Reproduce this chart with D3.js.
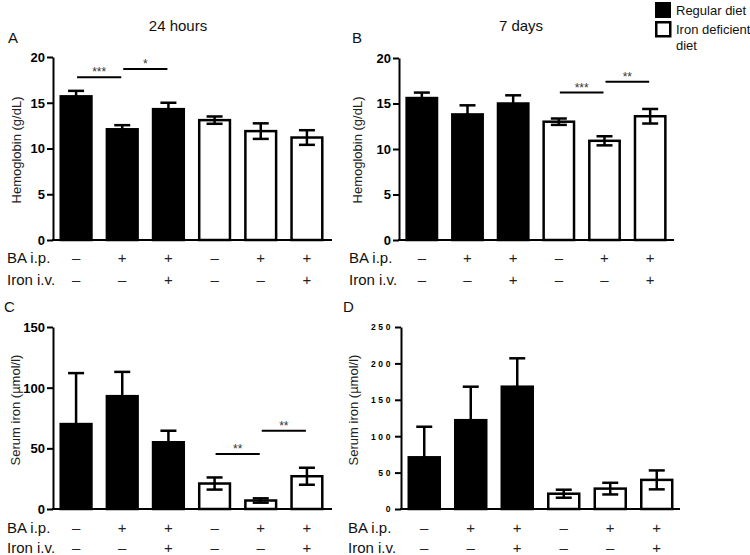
<!DOCTYPE html>
<html><head><meta charset="utf-8">
<script src="https://cdn.jsdelivr.net/npm/d3@7"></script>
<style>
html,body{margin:0;padding:0;background:#fff;}
svg{display:block;font-family:"Liberation Sans",Arial,sans-serif;}
</style></head>
<body>
<svg id="chart" width="750" height="555"></svg>
<script>
// ---- data ----
const groups = [0, 1, 2, 3, 4, 5];
const diet = ["regular", "regular", "regular", "deficient", "deficient", "deficient"];
const baIp = ["–", "+", "+", "–", "+", "+"];
const ironIv = ["–", "–", "+", "–", "–", "+"];

const hb24Mean = [15.7, 12.1, 14.3, 13.1, 11.9, 11.2];
const hb24Err  = [0.6, 0.45, 0.7, 0.4, 0.85, 0.8];
const hb7Mean  = [15.6, 13.8, 15.0, 13.0, 10.9, 13.6];
const hb7Err   = [0.6, 1.0, 0.9, 0.35, 0.5, 0.8];
const fe24Mean = [70, 93, 55, 21, 7, 27];
const fe24Err  = [42, 20, 9.5, 5, 1.8, 7];
const fe7Mean  = [71, 122, 168, 21, 28, 40];
const fe7Err   = [42, 46, 39, 5.5, 8, 13];

const hbTicks = [0, 5, 10, 15, 20];
const fe24Ticks = [0, 50, 100, 150];
const fe7Ticks = [0, 50, 100, 150, 200, 250];

// significance brackets: [fromGroup, toGroup, yValue, label]
const sigA = [[0, 1, 17.8, "***"], [1, 2, 18.7, "*"]];
const sigB = [[3, 4, 16.2, "***"], [4, 5, 17.4, "**"]];
const sigC = [[3, 4, 45.3, "**"], [4, 5, 64.5, "**"]];
const sigD = [];

const legendLabels = ["Regular diet", ["Iron deficient", "diet"]];
const titles = ["24 hours", "7 days"];

// ---- drawing ----
const svg = d3.select("#chart");

const panels = [
  {letter: "A", lx: 8, ly: 43, mean: hb24Mean, err: hb24Err, ticks: hbTicks, max: 20,
   x0: 53, x1: 330, xEnd: 332, yTop: 57, yBot: 240, ylab: "Hemoglobin (g/dL)", ylx: 16, yly: 150,
   rowX: 7, row1: 263, row2: 285, sig: sigA, small: false},
  {letter: "B", lx: 352, ly: 43, mean: hb7Mean, err: hb7Err, ticks: hbTicks, max: 20,
   x0: 399, x1: 673, xEnd: 674, yTop: 58, yBot: 240, ylab: "Hemoglobin (g/dL)", ylx: 357, yly: 150,
   rowX: 349, row1: 263, row2: 285, sig: sigB, small: false},
  {letter: "C", lx: 4, ly: 312, mean: fe24Mean, err: fe24Err, ticks: fe24Ticks, max: 150,
   x0: 53, x1: 330, xEnd: 332, yTop: 327, yBot: 509, ylab: "Serum iron (µmol/l)", ylx: 15, yly: 410,
   rowX: 7, row1: 533, row2: 553, sig: sigC, small: false},
  {letter: "D", lx: 343, ly: 312, mean: fe7Mean, err: fe7Err, ticks: fe7Ticks, max: 250,
   x0: 401, x1: 680, xEnd: 680, yTop: 327, yBot: 509, ylab: "Serum iron (µmol/l)", ylx: 353, yly: 410,
   rowX: 348, row1: 533, row2: 553, sig: sigD, small: true}
];

panels.forEach(p => {
  const g = svg.append("g");
  const x = d3.scaleBand().domain(groups).range([p.x0, p.x1]).paddingInner(0.28).paddingOuter(0.14);
  const y = d3.scaleLinear().domain([0, p.max]).range([p.yBot, p.yTop]);

  // bars
  g.selectAll("rect.bar").data(groups).join("rect")
    .attr("x", i => x(i) + 1.25)
    .attr("width", x.bandwidth() - 2.5)
    .attr("y", i => y(p.mean[i]))
    .attr("height", i => y(0) - y(p.mean[i]))
    .attr("fill", i => diet[i] === "regular" ? "#000" : "#fff")
    .attr("stroke", "#000").attr("stroke-width", 2.5);

  // error bars
  const capW = 8;
  groups.forEach(i => {
    const cx = x(i) + x.bandwidth() / 2;
    const hi = y(p.mean[i] + p.err[i]);
    const lo = diet[i] === "regular" ? y(p.mean[i]) : y(Math.max(0, p.mean[i] - p.err[i]));
    const eg = g.append("g").attr("stroke", "#000").attr("stroke-width", 2.5);
    eg.append("line").attr("x1", cx).attr("x2", cx).attr("y1", hi).attr("y2", lo);
    eg.append("line").attr("x1", cx - capW).attr("x2", cx + capW).attr("y1", hi).attr("y2", hi);
    if (diet[i] !== "regular") {
      eg.append("line").attr("x1", cx - capW).attr("x2", cx + capW).attr("y1", lo).attr("y2", lo);
    }
  });

  // y axis
  const ax = d3.axisLeft(y).tickValues(p.ticks).tickSize(6).tickSizeOuter(0).tickPadding(2);
  const ag = g.append("g").attr("transform", `translate(${p.x0},0)`).call(ax);
  ag.select(".domain").attr("stroke", "#000").attr("stroke-width", 2);
  ag.selectAll(".tick line").attr("stroke", "#000").attr("stroke-width", 2);
  ag.selectAll(".tick text")
    .attr("fill", "#000")
    .style("font-family", '"Liberation Sans",Arial,sans-serif')
    .style("font-weight", "bold")
    .style("font-size", p.small ? "8.5px" : "13px")
    .style("letter-spacing", p.small ? "2.6px" : "0px")
    .attr("dy", p.small ? "0.35em" : "0.34em");

  // x baseline
  g.append("line").attr("x1", p.x0 - 1).attr("x2", p.xEnd).attr("y1", y(0)).attr("y2", y(0))
    .attr("stroke", "#000").attr("stroke-width", 2);

  // y label
  g.append("text").attr("transform", `translate(${p.ylx},${p.yly}) rotate(-90)`)
    .attr("text-anchor", "middle").attr("dy", "0.35em")
    .style("font-size", "13px").attr("fill", "#222").text(p.ylab);

  // panel letter
  g.append("text").attr("x", p.lx).attr("y", p.ly).style("font-size", "15px").attr("fill", "#111").text(p.letter);

  // row labels
  g.append("text").attr("x", p.rowX).attr("y", p.row1).style("font-size", "15px").attr("fill", "#111").text("BA i.p.");
  g.append("text").attr("x", p.rowX).attr("y", p.row2).style("font-size", "15px").attr("fill", "#111").text("Iron i.v.");
  g.selectAll("text.r1").data(groups).join("text")
    .attr("x", i => x(i) + x.bandwidth() / 2).attr("y", p.row1)
    .attr("text-anchor", "middle").style("font-size", "15px").attr("fill", "#222")
    .text(i => baIp[i]);
  g.selectAll("text.r2").data(groups).join("text")
    .attr("x", i => x(i) + x.bandwidth() / 2).attr("y", p.row2)
    .attr("text-anchor", "middle").style("font-size", "15px").attr("fill", "#222")
    .text(i => ironIv[i]);

  // significance
  p.sig.forEach(s => {
    const xa = x(s[0]) + x.bandwidth() / 2 + 1;
    const xb = x(s[1]) + x.bandwidth() / 2 - 1;
    const yy = y(s[2]);
    g.append("line").attr("x1", xa).attr("x2", xb).attr("y1", yy).attr("y2", yy)
      .attr("stroke", "#000").attr("stroke-width", 2);
    g.append("text").attr("x", (xa + xb) / 2).attr("y", yy - 1)
      .attr("text-anchor", "middle").style("font-size", "12px").attr("fill", "#333").text(s[3]);
  });
});

// titles
svg.append("text").attr("x", 178).attr("y", 31).attr("text-anchor", "middle")
  .style("font-size", "15px").attr("fill", "#111").text(titles[0]);
svg.append("text").attr("x", 521).attr("y", 31).attr("text-anchor", "middle")
  .style("font-size", "15px").attr("fill", "#111").text(titles[1]);

// legend
const lg = svg.append("g");
lg.append("rect").attr("x", 655).attr("y", 2).attr("width", 16).attr("height", 16).attr("fill", "#000");
lg.append("rect").attr("x", 656.25).attr("y", 22.25).attr("width", 14).attr("height", 14)
  .attr("fill", "#fff").attr("stroke", "#000").attr("stroke-width", 2.5);
lg.append("text").attr("x", 676).attr("y", 15).style("font-size", "13px").attr("fill", "#111").text(legendLabels[0]);
lg.append("text").attr("x", 676).attr("y", 34).style("font-size", "13px").attr("fill", "#111").text(legendLabels[1][0]);
lg.append("text").attr("x", 676).attr("y", 50).style("font-size", "13px").attr("fill", "#111").text(legendLabels[1][1]);
</script>
</body></html>
